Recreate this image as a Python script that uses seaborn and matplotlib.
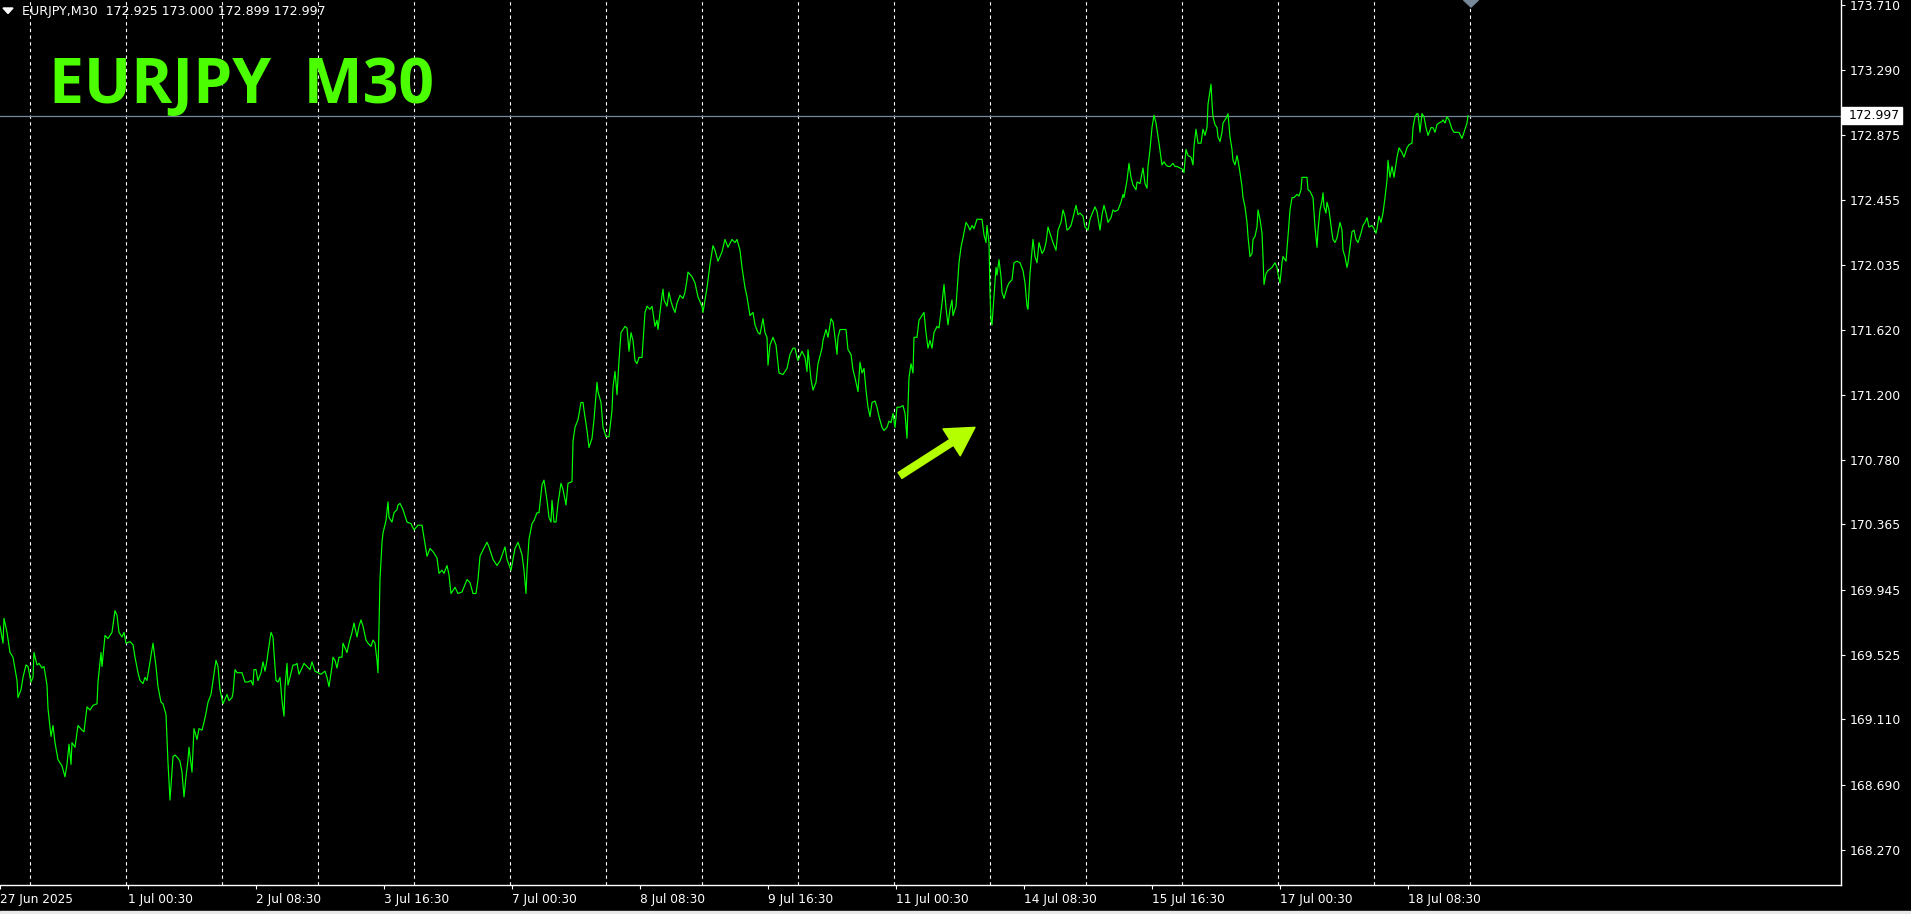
import numpy as np
import pandas as pd
import matplotlib
matplotlib.use("Agg")
import matplotlib.pyplot as plt
from matplotlib.patches import Polygon, Rectangle
import seaborn as sns

# ---------------- data ----------------
symbol = "EURJPY,M30"
ohlc_text = "172.925 173.000 172.899 172.997"
title_text = "EURJPY  M30"
last_price = 172.997

# bar position (M30 bars from 27 Jun 16:30) and close price
bars = [
    0, 1.5, 2, 3.5, 5, 6.5, 8.5, 9, 10.5, 11.5, 13, 14, 15.5, 16.5, 17, 18.5, 19.5, 21, 22, 23.5,
    24, 25.5, 26.5, 27.5, 29, 31, 32.5, 33.5, 34.5, 35.5, 36, 37.5, 39, 41, 42, 43.5, 45, 46.5, 48.5, 49,
    50.5, 51, 52.5, 54, 56, 57.5, 58.5, 59.5, 61, 62, 63, 65, 66.5, 67.5, 69, 70, 71.5, 72.5, 73.5, 74.5,
    76, 76.5, 78, 79, 80.5, 81.5, 83, 84, 85, 86, 86.5, 87.5, 89, 90, 91, 92, 93, 94, 94.5, 96,
    97, 98.5, 99.5, 101, 102, 103, 104, 105.5, 106.5, 108, 109, 110, 111.5, 112.5, 113.5, 114.5, 116, 116.5, 117.5, 118.5,
    121, 122.5, 124, 125.5, 126.5, 127, 128, 129, 130.5, 131.5, 132.5, 133.5, 134, 135.5, 136.5, 137, 138, 139, 140, 141,
    142, 142.5, 143.5, 144, 145, 146.5, 147.5, 148.5, 149.5, 151, 152, 153.5, 155, 156, 157.5, 159, 160.5, 161.5, 162.5, 163.5,
    164.5, 166, 166.5, 167.5, 168.5, 169.5, 171, 171.5, 173.5, 174.5, 176, 177, 178, 178.5, 179.5, 180.5, 181.5, 183, 184, 185.5,
    186.5, 187.5, 188.5, 189, 190, 191, 191.5, 193, 194, 194.5, 196, 197, 198.5, 199,
    200, 201.5, 203.5, 205.5, 207, 209, 211, 213.5, 215, 216.5, 218.5, 219.5, 221, 222, 223.5, 224.5, 225.5, 227.5, 229, 231,
    233.5, 235, 236.5, 238, 239, 240, 241.5, 243.5, 244.5, 246.5, 248.5, 250, 252.5, 253.5, 255.5, 256.5, 257.5, 259, 261, 262,
    263, 263.5, 264.5, 266, 267, 268.5, 269.5, 271, 272, 273.5, 274.5, 275.5, 276, 277, 278, 279, 280.5, 281.5, 283, 284,
    286, 286.5, 287.5, 289, 290.5, 291.5, 292, 293.5, 294.5, 296, 297, 298.5, 299, 300.5, 301.5, 303, 304.5, 306, 306.5, 307.5,
    308.5, 309.5, 310.5, 311.5, 312.5, 313.5, 314.5, 315.5, 316.5, 317.5, 318.5, 319.5, 321, 321.5, 322.5, 323.5, 325, 326, 326.5, 327.5,
    328.5, 329, 330, 331, 331.5, 332, 333.5, 334.5, 335.5, 336.5, 337.5, 338.5, 340, 341.5, 342.5, 343.5, 344, 346, 347.5, 349,
    351, 351.5, 352.5, 353.5, 355, 356.5, 357.5, 359, 361, 362.5, 364, 366, 367.5, 368.5, 370, 371, 372.5, 373.5, 375, 376.5,
    377.5, 379, 380, 381.5, 382.5, 383.5, 384, 385, 386.5, 388, 388.5, 389.5, 391.5, 393.5, 395, 396.5, 397.5, 398.5,
    399, 401, 402.5, 403.5, 404, 405.5, 406.5, 408, 409, 411, 411.5, 413, 414, 415.5, 416.5, 417.5, 418.5, 419, 420, 421.5,
    423, 424, 425.5, 426.5, 427.5, 429, 430, 431, 432, 433, 434, 435, 436, 437.5, 438.5, 439.5, 441, 442, 443.5, 444.5,
    445.5, 446.5, 447.5, 448.5, 450, 451.5, 452.5, 453.5, 454, 454.5, 455.5, 456.5, 457, 458.5, 459.5, 461, 462, 463, 464, 465,
    466, 467, 468.5, 469.5, 471, 472, 473, 474, 475, 476, 476.5, 478, 478.5, 479.5, 480.5, 481.5, 483, 484, 485, 486,
    487, 488.5, 490, 491, 492, 493, 493.5, 494.5, 495, 495.5, 496, 497, 498, 498.5, 499.5, 500.5, 501, 502, 503.5, 504.5,
    506, 507, 508.5, 510, 511.5, 512.5, 513.5, 514, 515, 516, 516.5, 517.5, 518.5, 519.5, 521, 522, 523, 524, 525.5, 526.5,
    528, 529, 530.5, 531.5, 532.5, 533.5, 534.5, 535.5, 536.5, 538, 539, 540, 541.5, 542.5, 544, 545, 546.5, 547.5, 548.5, 550,
    551, 552, 553, 554, 555.5, 556.5, 557.5, 559, 560.5, 561.5, 562, 563.5, 564.5, 565.5, 566.5, 568, 568.5, 570, 571.5, 572.5,
    573.5, 574, 575, 576, 577, 578, 579.5, 581, 582, 583, 584,
    585, 586.5, 587.5, 588.5, 590, 591.5, 592, 593, 594, 595.5, 596.5, 597, 598, 599, 600.5, 601.5, 602.5, 603.5, 604, 605.5,
    606, 606.5, 607.5, 608.5, 609, 610, 611, 611.5, 613, 614, 615, 616, 616.5, 617.5, 618.5, 619, 620, 621, 621.5, 622.5,
    623.5, 624, 625, 626, 626.5, 627.5, 628.5, 629, 630, 631, 631.5, 632, 633, 634, 636, 637.5, 638.5, 639, 640, 641,
    641.5, 643, 644, 645, 646, 647, 648.5, 649.5, 650.5, 651, 652.5, 653.5, 654, 655, 656.5, 657, 657.5, 658.5, 659, 660,
    661, 661.5, 662, 663, 663.5, 664.5, 666, 666.5, 667.5, 668.5, 670, 671, 671.5, 672.5, 673.5, 674, 675, 676, 677, 678,
    679, 680.5, 681.5, 682.5, 683.5, 684.5, 686, 687, 688, 688.5, 689.5, 690.5, 691.5, 692.5, 693.5, 694, 695, 696, 697, 698.5,
    699.5, 701, 702, 703.5, 704.5, 706, 706.5, 707.5, 708.5, 709, 710, 711, 712, 713, 714, 715.5, 716.5, 717.5, 718.5, 719.5,
    721, 721.5, 722.5, 723.5, 724.5, 726, 727, 728.5, 729.5, 731, 732, 733.5, 734,
]
close = [
    169.71, 169.60, 169.76, 169.67, 169.54, 169.51, 169.36, 169.25, 169.30, 169.38, 169.46, 169.45, 169.35, 169.38, 169.54, 169.46, 169.47, 169.44, 169.45, 169.33,
    169.18, 169.00, 169.07, 168.96, 168.85, 168.81, 168.74, 168.82, 168.95, 168.82, 168.96, 168.93, 169.07, 169.04, 169.03, 169.19, 169.17, 169.20, 169.21, 169.35,
    169.54, 169.45, 169.65, 169.63, 169.67, 169.81, 169.78, 169.67, 169.64, 169.67, 169.60, 169.61, 169.59, 169.51, 169.41, 169.36, 169.34, 169.38, 169.36, 169.44,
    169.56, 169.60, 169.45, 169.32, 169.22, 169.21, 169.14, 168.83, 168.59, 168.77, 168.87, 168.88, 168.86, 168.84, 168.77, 168.61, 168.74, 168.85, 168.93, 168.77,
    169.05, 168.98, 169.05, 169.04, 169.09, 169.15, 169.22, 169.27, 169.36, 169.49, 169.45, 169.30, 169.21, 169.24, 169.27, 169.23, 169.25, 169.28, 169.43, 169.41,
    169.41, 169.35, 169.35, 169.36, 169.33, 169.43, 169.43, 169.36, 169.41, 169.48, 169.42, 169.49, 169.54, 169.67, 169.64, 169.54, 169.36, 169.35, 169.38, 169.23,
    169.13, 169.32, 169.47, 169.33, 169.38, 169.46, 169.46, 169.47, 169.40, 169.44, 169.47, 169.45, 169.43, 169.48, 169.42, 169.41, 169.40, 169.41, 169.42, 169.38,
    169.32, 169.45, 169.51, 169.49, 169.44, 169.51, 169.51, 169.60, 169.54, 169.60, 169.67, 169.73, 169.67, 169.64, 169.71, 169.75, 169.71, 169.62, 169.60, 169.58,
    169.62, 169.60, 169.49, 169.41, 170.01, 170.25, 170.31, 170.39, 170.51, 170.41, 170.38, 170.44, 170.46, 170.49,
    170.50, 170.46, 170.38, 170.37, 170.33, 170.36, 170.36, 170.16, 170.21, 170.19, 170.15, 170.05, 170.07, 170.05, 170.10, 170.04, 169.92, 169.96, 169.92, 169.93,
    170.01, 169.99, 169.92, 169.92, 170.01, 170.16, 170.20, 170.25, 170.22, 170.14, 170.10, 170.13, 170.22, 170.14, 170.07, 170.14, 170.21, 170.25, 170.17, 170.07,
    169.92, 170.07, 170.27, 170.37, 170.39, 170.44, 170.44, 170.62, 170.65, 170.52, 170.41, 170.38, 170.52, 170.38, 170.38, 170.50, 170.63, 170.59, 170.49, 170.63,
    170.64, 170.90, 170.99, 171.04, 171.15, 171.15, 171.10, 170.97, 170.86, 170.92, 171.04, 171.28, 171.22, 171.15, 170.99, 170.93, 170.93, 171.10, 171.25, 171.35,
    171.20, 171.42, 171.60, 171.62, 171.64, 171.63, 171.48, 171.60, 171.55, 171.42, 171.40, 171.44, 171.44, 171.54, 171.73, 171.77, 171.75, 171.77, 171.73, 171.64,
    171.68, 171.62, 171.73, 171.84, 171.88, 171.81, 171.77, 171.86, 171.80, 171.76, 171.73, 171.79, 171.84, 171.82, 171.86, 171.94, 171.99, 171.96, 171.92, 171.83,
    171.77, 171.73, 171.81, 171.89, 172.04, 172.16, 172.13, 172.06, 172.12, 172.20, 172.15, 172.20, 172.18, 172.20, 172.13, 172.02, 171.89, 171.83, 171.71, 171.73,
    171.65, 171.60, 171.59, 171.69, 171.60, 171.57, 171.39, 171.52, 171.57, 171.52, 171.46, 171.34, 171.33, 171.37, 171.46, 171.50, 171.50, 171.44,
    171.42, 171.48, 171.44, 171.35, 171.49, 171.30, 171.23, 171.28, 171.40, 171.50, 171.55, 171.62, 171.57, 171.69, 171.67, 171.57, 171.46, 171.57, 171.62, 171.62,
    171.62, 171.49, 171.46, 171.36, 171.31, 171.22, 171.41, 171.34, 171.37, 171.23, 171.12, 171.06, 171.15, 171.16, 171.12, 171.06, 170.99, 170.97, 170.99, 171.03,
    171.02, 171.08, 170.99, 171.12, 171.12, 171.13, 171.08, 170.92, 171.13, 171.31, 171.40, 171.34, 171.57, 171.57, 171.68, 171.71, 171.73, 171.60, 171.50, 171.55,
    171.50, 171.60, 171.64, 171.63, 171.79, 171.91, 171.76, 171.65, 171.75, 171.81, 171.71, 171.77, 171.86, 172.05, 172.15, 172.21, 172.31, 172.29, 172.26, 172.29,
    172.27, 172.33, 172.33, 172.33, 172.23, 172.18, 172.29, 172.18, 171.86, 171.68, 171.65, 171.83, 172.02, 171.97, 172.07, 171.96, 171.86, 171.82, 171.89, 171.92,
    171.94, 172.05, 172.06, 172.05, 172.00, 171.92, 171.77, 171.75, 171.98, 172.13, 172.20, 172.09, 172.05, 172.18, 172.11, 172.13, 172.18, 172.28, 172.22, 172.18,
    172.13, 172.26, 172.31, 172.39, 172.35, 172.26, 172.27, 172.29, 172.34, 172.42, 172.36, 172.37, 172.35, 172.28, 172.26, 172.33, 172.38, 172.41, 172.38, 172.26,
    172.36, 172.42, 172.37, 172.31, 172.34, 172.39, 172.38, 172.39, 172.44, 172.49, 172.47, 172.58, 172.69, 172.60, 172.55, 172.52, 172.57, 172.56, 172.66, 172.56,
    172.53, 172.67, 172.78, 172.92, 173.00, 172.95, 172.82, 172.68, 172.70, 172.68, 172.67,
    172.67, 172.69, 172.67, 172.67, 172.66, 172.65, 172.63, 172.78, 172.74, 172.73, 172.68, 172.80, 172.91, 172.82, 172.82, 172.91, 172.87, 172.92, 173.07, 173.20,
    173.08, 172.99, 172.94, 172.92, 172.86, 172.83, 172.89, 172.95, 172.98, 173.01, 172.86, 172.78, 172.71, 172.68, 172.74, 172.71, 172.63, 172.54, 172.47, 172.41,
    172.31, 172.22, 172.09, 172.11, 172.20, 172.22, 172.28, 172.39, 172.33, 172.24, 172.09, 171.91, 171.98, 172.00, 172.02, 172.05, 172.02, 171.98, 171.92, 172.05,
    172.09, 172.06, 172.22, 172.39, 172.47, 172.47, 172.49, 172.48, 172.52, 172.60, 172.60, 172.60, 172.52, 172.51, 172.47, 172.37, 172.28, 172.15, 172.26, 172.39,
    172.45, 172.50, 172.41, 172.37, 172.44, 172.39, 172.24, 172.20, 172.18, 172.21, 172.31, 172.26, 172.13, 172.09, 172.02, 172.05, 172.15, 172.25, 172.26, 172.20,
    172.18, 172.24, 172.29, 172.31, 172.34, 172.28, 172.29, 172.27, 172.24, 172.27, 172.35, 172.31, 172.37, 172.47, 172.58, 172.71, 172.60, 172.67, 172.60, 172.73,
    172.79, 172.76, 172.73, 172.79, 172.81, 172.82, 172.92, 172.99, 173.01, 173.01, 172.89, 173.01, 172.99, 172.92, 172.87, 172.92, 172.92, 172.89, 172.94, 172.95,
    172.96, 172.97, 172.95, 172.99, 172.97, 172.91, 172.89, 172.89, 172.89, 172.85, 172.89, 172.95, 172.997,
]

price_ticks = [173.710, 173.290, 172.875, 172.455, 172.035, 171.620, 171.200,
               170.780, 170.365, 169.945, 169.525, 169.110, 168.690, 168.270]
time_labels = ["27 Jun 2025", "1 Jul 00:30", "2 Jul 08:30", "3 Jul 16:30", "7 Jul 00:30",
               "8 Jul 08:30", "9 Jul 16:30", "11 Jul 00:30", "14 Jul 08:30", "15 Jul 16:30",
               "17 Jul 00:30", "18 Jul 08:30"]
bars_per_label = 64          # a time label every 32 hours of M30 bars
first_day_start = 15         # bar of 30 Jun 00:00
bars_per_day = 48
n_days = 16

arrow_tail = (450, 170.68)
arrow_head = (487.5, 170.99)

# ---------------- figure ----------------
W, H = 1911, 914
fig = plt.figure(figsize=(W / 100, H / 100), dpi=100, facecolor="black")
plot_w, plot_h = 1841, 885
ax = fig.add_axes([0, (H - plot_h) / H, plot_w / W, plot_h / H])
ax.set_facecolor("black")

df = pd.DataFrame({"bar": bars, "close": close})

# day separators
for k in range(n_days):
    ax.axvline(first_day_start + k * bars_per_day, color="white", lw=0.8,
               ls=(0, (3, 3)), zorder=1)

sns.lineplot(data=df, x="bar", y="close", ax=ax, color="#00ff00", lw=0.85,
             estimator=None, sort=False, zorder=3)

# last price line
ax.axhline(last_price, color="#778899", lw=0.9, zorder=2)

ax.set_xlim(0, plot_w / 2)
ax.set_ylim(168.043, 173.742)
ax.set_xlabel("")
ax.set_ylabel("")

# spines
for s in ["top", "left"]:
    ax.spines[s].set_visible(False)
for s in ["right", "bottom"]:
    ax.spines[s].set_color("white")
    ax.spines[s].set_linewidth(1.0)

ax.yaxis.tick_right()
ax.set_yticks(price_ticks)
ax.set_yticklabels([f"{v:.3f}" for v in price_ticks])
ax.tick_params(axis="y", colors="white", labelsize=8.9, length=3, width=0.8, pad=3)

ax.set_xticks([i * bars_per_label for i in range(len(time_labels))])
ax.set_xticklabels(time_labels)
ax.tick_params(axis="x", colors="white", labelsize=8.7, length=3, width=0.8, pad=3)
for lab in ax.get_xticklabels():
    lab.set_ha("left")
ax.grid(False)

# price label box (white box on the price scale)
y_lp = ax.transData.transform((0, last_price))[1]  # pixel y of last price
fig.patches.append(Rectangle((1842 / W, (y_lp - 8.5) / H), 60 / W, 17 / H,
                             transform=fig.transFigure, color="white", zorder=5))
fig.text(1849 / W, y_lp / H, f"{last_price:.3f}", ha="left", va="center",
         fontsize=8.9, color="black", zorder=6)

# shift marker triangle on top
tri_x = bars[-1] + 1.5
tri = Polygon([[tri_x - 3.75, 1.0], [tri_x + 3.75, 1.0], [tri_x, 1 - 7 / plot_h]],
              closed=True, transform=ax.get_xaxis_transform(), color="#778899",
              clip_on=False, zorder=5)
ax.add_patch(tri)

# arrow
ax.annotate("", xy=arrow_head, xytext=arrow_tail,
            arrowprops=dict(arrowstyle="simple,head_width=2.3,head_length=2.0,tail_width=0.5",
                            color="#b4ff00", shrinkA=0, shrinkB=0, mutation_scale=10),
            zorder=6)

# header text
fig.text(22 / W, 1 - 11 / H, f"{symbol}  {ohlc_text}", color="white", fontsize=9.1,
         va="center", ha="left")
hdr_tri = Polygon([[3 / W, 1 - 8 / H], [13 / W, 1 - 8 / H], [8 / W, 1 - 13.5 / H]],
                  closed=True, transform=fig.transFigure, color="white")
fig.patches.append(hdr_tri)

# big title
fig.text(49 / W, 1 - 103 / H, title_text, color="#4cff00", fontsize=45,
         fontweight="bold", family="Open Sans", ha="left", va="baseline")

# bottom light strip
fig.patches.append(Rectangle((0, 0), 1, 3 / H, transform=fig.transFigure,
                             color="#e8e8e8"))

fig.savefig("out.png", dpi=100, facecolor="black")
